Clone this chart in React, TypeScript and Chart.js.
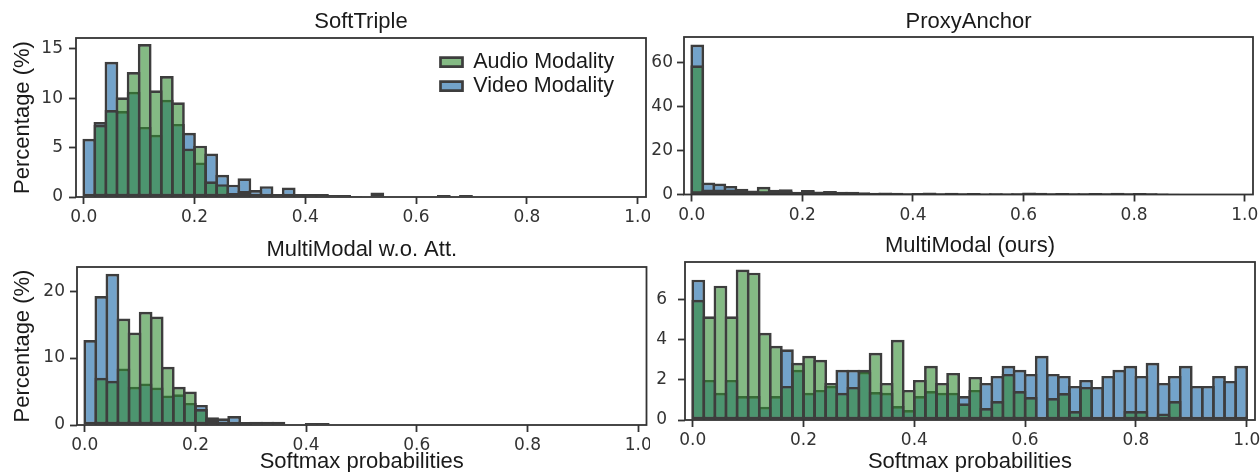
import React, { useEffect, useRef } from 'react';
import { Chart, registerables } from 'chart.js';

Chart.register(...registerables);

// ---------- data ----------
const BIN_CENTERS = [
  0.01, 0.03, 0.05, 0.07, 0.09, 0.11, 0.13, 0.15, 0.17, 0.19,
  0.21, 0.23, 0.25, 0.27, 0.29, 0.31, 0.33, 0.35, 0.37, 0.39,
  0.41, 0.43, 0.45, 0.47, 0.49, 0.51, 0.53, 0.55, 0.57, 0.59,
  0.61, 0.63, 0.65, 0.67, 0.69, 0.71, 0.73, 0.75, 0.77, 0.79,
  0.81, 0.83, 0.85, 0.87, 0.89, 0.91, 0.93, 0.95, 0.97, 0.99,
];

const X_TICKS = [0, 0.2, 0.4, 0.6, 0.8, 1.0];
const X_TICK_LABELS = ['0.0', '0.2', '0.4', '0.6', '0.8', '1.0'];

const SERIES_NAMES = ['Audio Modality', 'Video Modality'];
const PANEL_TITLES = ['SoftTriple', 'ProxyAnchor', 'MultiModal w.o. Att.', 'MultiModal (ours)'];
const X_TITLE = 'Softmax probabilities';
const Y_TITLE = 'Percentage (%)';

// SoftTriple
const SOFTTRIPLE_AUDIO = [
  0, 7.3, 8.8, 10.1, 12.65, 15.5, 10.8, 12.25, 9.6, 4.9,
  5.2, 1.6, 1.3, 0.4, 0.6, 0.1, 0.2, 0, 0.1, 0.1,
  0, 0, 0, 0, 0, 0, 0, 0, 0, 0,
  0, 0, 0, 0, 0, 0, 0, 0, 0, 0,
  0, 0, 0, 0, 0, 0, 0, 0, 0, 0,
];
const SOFTTRIPLE_VIDEO = [
  5.9, 7.6, 13.7, 8.7, 10.65, 7.1, 6.3, 9.85, 7.4, 6.5,
  3.5, 4.4, 2.25, 1.25, 1.9, 0.7, 1.1, 0.3, 0.95, 0.3,
  0.3, 0.3, 0.2, 0.2, 0.1, 0, 0.45, 0, 0, 0,
  0, 0, 0.2, 0, 0.2, 0, 0, 0, 0, 0,
  0, 0, 0, 0, 0, 0, 0, 0, 0, 0,
];
const SOFTTRIPLE_Y_TICKS = [0, 5, 10, 15];
const SOFTTRIPLE_Y_MAX = 16.1;

// ProxyAnchor
const PROXYANCHOR_AUDIO = [
  58.6, 2.3, 2.3, 2.3, 1.7, 0.9, 3.5, 1.4, 2.4, 1.0,
  1.5, 1.0, 1.2, 0.9, 0.8, 0.7, 0.6, 0.5, 0.6, 0.5,
  0.5, 0.6, 0.4, 0.5, 0.4, 0.5, 0.4, 0.4, 0.5, 0.4,
  0.5, 0.5, 0.4, 0.5, 0.4, 0.4, 0.5, 0.4, 0.5, 0.4,
  0.4, 0.4, 0.3, 0.2, 0, 0, 0, 0, 0, 0,
];
const PROXYANCHOR_VIDEO = [
  68, 5.4, 5.0, 3.9, 2.6, 1.8, 1.5, 2.1, 1.6, 1.2,
  2.0, 1.4, 1.6, 1.2, 1.2, 1.0, 0.8, 0.9, 0.8, 0.6,
  0.7, 0.9, 0.6, 0.8, 0.6, 0.7, 0.5, 0.6, 0.5, 0.6,
  0.9, 0.8, 0.6, 0.7, 0.6, 0.6, 0.7, 0.6, 0.8, 0.6,
  0.7, 0.6, 0.5, 0.3, 0, 0, 0, 0, 0, 0,
];
const PROXYANCHOR_Y_TICKS = [0, 20, 40, 60];
const PROXYANCHOR_Y_MAX = 71.4;

// MultiModal w.o. Att.
const NOATT_AUDIO = [
  0, 7.05, 6.6, 15.9, 13.8, 16.9, 16.2, 8.7, 5.7, 5.0,
  2.4, 0.9, 0.5, 0.2, 0.2, 0.1, 0.1, 0.1, 0, 0,
  0.1, 0.1, 0, 0, 0, 0, 0, 0, 0, 0,
  0, 0, 0, 0, 0, 0, 0, 0, 0, 0,
  0, 0, 0, 0, 0, 0, 0, 0, 0, 0,
];
const NOATT_VIDEO = [
  12.7, 19.25, 22.6, 8.45, 5.7, 6.2, 5.6, 4.4, 4.6, 3.3,
  3.0, 1.15, 1.0, 1.35, 0.45, 0.5, 0.5, 0.5, 0, 0,
  0.3, 0.3, 0, 0, 0, 0, 0, 0, 0, 0,
  0, 0, 0, 0, 0, 0, 0, 0, 0, 0,
  0, 0, 0, 0, 0, 0, 0, 0, 0, 0,
];
const NOATT_Y_TICKS = [0, 10, 20];
const NOATT_Y_MAX = 23.6;

// MultiModal (ours)
const OURS_AUDIO = [
  6.0, 5.17, 6.7, 5.17, 7.5, 7.35, 4.35, 3.7, 1.7, 2.85,
  3.2, 3.0, 1.85, 1.36, 1.65, 2.5, 3.35, 1.85, 4.0, 1.5,
  2.0, 2.7, 1.85, 2.35, 0.83, 2.15, 0.6, 0.95, 2.3, 1.45,
  1.15, 0, 1.1, 1.35, 0.45, 1.65, 0, 0, 0, 0.45,
  0.45, 0, 0.33, 0.95, 0, 0, 0, 0, 0, 0,
];
const OURS_VIDEO = [
  7.0, 2.0, 1.36, 2.0, 1.2, 1.2, 0.66, 1.2, 3.53, 2.5,
  1.36, 1.5, 1.7, 2.5, 2.5, 2.4, 1.4, 1.36, 0.7, 0.5,
  1.2, 1.45, 1.36, 1.36, 1.2, 1.5, 1.85, 2.2, 2.7, 2.5,
  2.3, 3.2, 2.3, 2.2, 1.7, 2.0, 1.65, 2.2, 2.5, 2.7,
  2.2, 2.85, 1.85, 2.2, 2.7, 1.7, 1.7, 2.2, 1.95, 2.7,
];
const OURS_Y_TICKS = [0, 2, 4, 6];
const OURS_Y_MAX = 7.88;

// ---------- styles ----------
const X_MIN = -0.014;
const X_MAX = 1.015;
const GREEN = 'rgba(50,140,50,0.6)';
const BLUE = 'rgba(22,102,166,0.6)';
const EDGE = '#3d3d3d';
const EDGE_W = 2.7;
const BAR_PCT = 1.244;
const AXIS = '#333333';
const AXIS_W = 1.8;
const TEXT = '#1a1a1a';
const TICK_TEXT = '#333333';
const SANS = 'Liberation Sans, Arial, sans-serif';
const TICK_FONT = { family: 'DejaVu Sans, sans-serif', size: 17, lineHeight: 1.2 };

type Area = { l: number; t: number; r: number; b: number };
type PanelSpec = {
  title: string;
  audio: number[];
  video: number[];
  yTicks: number[];
  yMax: number;
  left: number;
  top: number;
  width: number;
  height: number;
  area: Area; // local chart area
  titlePad: { top: number; bottom: number };
  yTickPad: number;
  yTitle: boolean;
  xTitle: boolean;
  legend: boolean;
};

const PANELS: PanelSpec[] = [
  {
    title: PANEL_TITLES[0], audio: SOFTTRIPLE_AUDIO, video: SOFTTRIPLE_VIDEO,
    yTicks: SOFTTRIPLE_Y_TICKS, yMax: SOFTTRIPLE_Y_MAX,
    left: 0, top: 0, width: 650, height: 236,
    area: { l: 76, t: 38, r: 646, b: 197 },
    titlePad: { top: 8.5, bottom: 3.1 },
    yTickPad: 6,
    yTitle: true, xTitle: false, legend: true,
  },
  {
    title: PANEL_TITLES[1], audio: PROXYANCHOR_AUDIO, video: PROXYANCHOR_VIDEO,
    yTicks: PROXYANCHOR_Y_TICKS, yMax: PROXYANCHOR_Y_MAX,
    left: 650, top: 0, width: 610, height: 236,
    area: { l: 34, t: 37, r: 603, b: 194.5 },
    titlePad: { top: 8.5, bottom: 2.1 },
    yTickPad: 4,
    yTitle: false, xTitle: false, legend: false,
  },
  {
    title: PANEL_TITLES[2], audio: NOATT_AUDIO, video: NOATT_VIDEO,
    yTicks: NOATT_Y_TICKS, yMax: NOATT_Y_MAX,
    left: 0, top: 226, width: 650, height: 246,
    area: { l: 77, t: 41, r: 646.5, b: 199 },
    titlePad: { top: 10.8, bottom: 3.8 },
    yTickPad: 5,
    yTitle: true, xTitle: true, legend: false,
  },
  {
    title: PANEL_TITLES[3], audio: OURS_AUDIO, video: OURS_VIDEO,
    yTicks: OURS_Y_TICKS, yMax: OURS_Y_MAX,
    left: 650, top: 226, width: 610, height: 246,
    area: { l: 35, t: 36, r: 605, b: 194 },
    titlePad: { top: 6.3, bottom: 3.3 },
    yTickPad: 11,
    yTitle: false, xTitle: true, legend: false,
  },
];

// legend placement (local to the SoftTriple canvas)
const LEGEND_POS = { x: 438, y: 48.8 };

const spinesPlugin = {
  id: 'spines',
  afterDatasetsDraw(chart: any) {
    const { ctx, chartArea: a } = chart;
    ctx.save();
    ctx.strokeStyle = AXIS;
    ctx.lineWidth = AXIS_W;
    ctx.strokeRect(a.left, a.top, a.right - a.left, a.bottom - a.top);
    ctx.restore();
  },
};

const legendPlacePlugin = {
  id: 'legendPlace',
  afterLayout(chart: any) {
    const lg = chart.legend;
    if (!lg || !chart.options.plugins.legend.display) return;
    const w = lg.width;
    const h = lg.height;
    lg.left = LEGEND_POS.x;
    lg.top = LEGEND_POS.y;
    lg.right = LEGEND_POS.x + w;
    lg.bottom = LEGEND_POS.y + h;
  },
};

function makeDataset(label: string, values: number[], color: string) {
  return {
    label,
    data: BIN_CENTERS.map((x, i) => ({ x, y: values[i] })),
    backgroundColor: color,
    borderColor: EDGE,
    borderWidth: EDGE_W,
    borderSkipped: false,
    grouped: false,
    categoryPercentage: 1,
    barPercentage: BAR_PCT,
    inflateAmount: 0,
  };
}

function Panel({ spec }: { spec: PanelSpec }) {
  const ref = useRef<HTMLCanvasElement>(null);
  useEffect(() => {
    const { area, width: W, height: H } = spec;
    const chart = new Chart(ref.current as HTMLCanvasElement, {
      type: 'bar',
      data: {
        datasets: [
          makeDataset(SERIES_NAMES[0], spec.audio, GREEN),
          makeDataset(SERIES_NAMES[1], spec.video, BLUE),
        ] as any,
      },
      options: {
        responsive: false,
        animation: false,
        devicePixelRatio: 1,
        layout: { padding: { left: 0, top: 0, right: W - area.r, bottom: 0 } },
        scales: {
          x: {
            type: 'linear',
            min: X_MIN,
            max: X_MAX,
            offset: false,
            afterFit: (s: any) => {
              s.height = H - area.b;
              s.paddingLeft = 0;
              s.paddingRight = 0;
            },
            afterBuildTicks: (s: any) => {
              s.ticks = X_TICKS.map((v) => ({ value: v }));
            },
            ticks: {
              callback: (v: any) => X_TICK_LABELS[X_TICKS.indexOf(Number(v))] ?? '',
              font: TICK_FONT,
              color: TICK_TEXT,
              padding: 3.5,
              maxRotation: 0,
              autoSkip: false,
            },
            grid: {
              display: true,
              drawOnChartArea: false,
              drawTicks: true,
              tickLength: 7,
              tickWidth: AXIS_W,
              tickColor: AXIS,
              offset: false,
            },
            border: { display: false },
            title: {
              display: spec.xTitle,
              text: X_TITLE,
              color: TEXT,
              font: { family: SANS, size: 22, lineHeight: 1 },
              padding: { top: 0, bottom: -1.2 },
            },
          },
          y: {
            type: 'linear',
            min: 0,
            max: spec.yMax,
            afterFit: (s: any) => {
              s.width = area.l;
              s.paddingTop = 0;
              s.paddingBottom = 0;
            },
            afterBuildTicks: (s: any) => {
              s.ticks = spec.yTicks.map((v) => ({ value: v }));
            },
            ticks: {
              font: TICK_FONT,
              color: TICK_TEXT,
              padding: spec.yTickPad,
              autoSkip: false,
            },
            grid: {
              display: true,
              drawOnChartArea: false,
              drawTicks: true,
              tickLength: 7,
              tickWidth: AXIS_W,
              tickColor: AXIS,
            },
            border: { display: false },
            title: {
              display: spec.yTitle,
              text: Y_TITLE,
              color: TEXT,
              font: { family: SANS, size: 22, lineHeight: 1 },
              padding: { top: 12, bottom: 0 },
            },
          },
        },
        plugins: {
          title: {
            display: true,
            text: spec.title,
            fullSize: false,
            color: TEXT,
            font: { family: SANS, size: 22, lineHeight: 1.2, weight: 'normal' },
            padding: spec.titlePad,
          },
          legend: {
            display: spec.legend,
            position: 'chartArea',
            align: 'start',
            labels: {
              font: { family: SANS, size: 21.5 },
              color: TEXT,
              boxWidth: 22,
              boxHeight: 9,
              padding: 2.5,
            },
          },
          tooltip: { enabled: false },
        },
      } as any,
      plugins: [spinesPlugin, legendPlacePlugin],
    });
    return () => chart.destroy();
  }, [spec]);

  return (
    <div style={{ position: 'absolute', left: spec.left, top: spec.top, width: spec.width, height: spec.height }}>
      <canvas
        ref={ref}
        width={spec.width}
        height={spec.height}
        style={{ display: 'block', width: spec.width, height: spec.height }}
      />
    </div>
  );
}

export default function App() {
  return (
    <div
      style={{
        position: 'absolute',
        left: 0,
        top: 0,
        width: 1260,
        height: 472,
        overflow: 'hidden',
        background: '#ffffff',
      }}
    >
      {PANELS.map((p) => (
        <Panel key={p.title} spec={p} />
      ))}
    </div>
  );
}
